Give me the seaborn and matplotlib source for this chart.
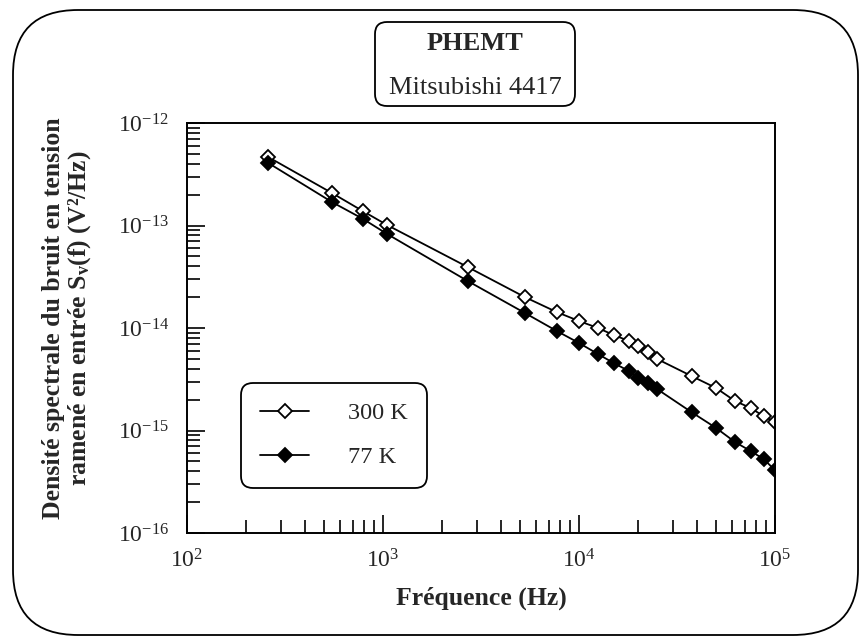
import numpy as np
import pandas as pd
import matplotlib
matplotlib.use("Agg")
import matplotlib.pyplot as plt
import seaborn as sns
from matplotlib.patches import FancyBboxPatch
from matplotlib.transforms import IdentityTransform
from matplotlib.ticker import FixedLocator, NullFormatter, LogFormatterSciNotation

# ---------------- data ----------------
freq = [260, 550, 790, 1050, 2700, 5300, 7700, 10000, 12500, 15000,
        18000, 20000, 22500, 25000, 37500, 50000, 62500, 75000, 87500, 100000]
s_300K = [4.65e-13, 2.07e-13, 1.38e-13, 1.01e-13, 3.94e-14, 2.0e-14, 1.43e-14,
          1.17e-14, 1.0e-14, 8.55e-15, 7.47e-15, 6.67e-15, 5.83e-15, 4.99e-15,
          3.4e-15, 2.6e-15, 1.94e-15, 1.66e-15, 1.38e-15, 1.21e-15]
s_77K = [4.07e-13, 1.69e-13, 1.16e-13, 8.26e-14, 2.88e-14, 1.4e-14, 9.35e-15,
         7.14e-15, 5.57e-15, 4.56e-15, 3.8e-15, 3.25e-15, 2.9e-15, 2.54e-15,
         1.51e-15, 1.06e-15, 7.72e-16, 6.31e-16, 5.27e-16, 4.1e-16]
labels = ["300 K", "77 K"]
x_major = [1e2, 1e3, 1e4, 1e5]
y_major = [1e-16, 1e-15, 1e-14, 1e-13, 1e-12]
title_lines = ["PHEMT", "Mitsubishi 4417"]
xlabel = "Fréquence (Hz)"
ylabel_lines = ["Densité spectrale du bruit en tension",
                r"ramené en entrée S$_\mathbf{v}$(f) (V²/Hz)"]

df = pd.DataFrame({
    "f": freq + freq,
    "S": s_300K + s_77K,
    "T": [labels[0]] * len(freq) + [labels[1]] * len(freq),
})

# ---------------- style ----------------
sns.set_style("white")
plt.rcParams["font.family"] = ["Liberation Serif", "DejaVu Serif"]
plt.rcParams["mathtext.fontset"] = "custom"
plt.rcParams["mathtext.rm"] = "Liberation Serif"
plt.rcParams["mathtext.it"] = "Liberation Serif:italic"
plt.rcParams["mathtext.bf"] = "Liberation Serif:bold"
plt.rcParams["axes.unicode_minus"] = False

W, H = 864, 643
fig = plt.figure(figsize=(W / 100, H / 100), dpi=100)
fig.patch.set_facecolor("white")

ax_l, ax_r, ax_t, ax_b = 187, 775, 123, 533
ax = fig.add_axes([ax_l / W, 1 - ax_b / H, (ax_r - ax_l) / W, (ax_b - ax_t) / H])
ax.set_xscale("log")
ax.set_yscale("log")

fills = ["white", "black"]
for lab, fc in zip(labels, fills):
    sub = df[df["T"] == lab]
    sns.lineplot(data=sub, x="f", y="S", ax=ax, color="black", marker="D",
                 markersize=7, markerfacecolor=fc, markeredgecolor="black",
                 markeredgewidth=1.3, linewidth=1.3, label=lab, sort=False,
                 estimator=None)

ax.set_xlim(x_major[0], x_major[-1])
ax.set_ylim(y_major[0], y_major[-1])

for sp in ax.spines.values():
    sp.set_visible(True)
    sp.set_color("black")
    sp.set_linewidth(1.4)

def minors(majors):
    out = []
    for m in majors[:-1]:
        out += [m * k for k in range(2, 10)]
    return out

ax.xaxis.set_major_locator(FixedLocator(x_major))
ax.yaxis.set_major_locator(FixedLocator(y_major))
ax.xaxis.set_major_formatter(LogFormatterSciNotation())
ax.yaxis.set_major_formatter(LogFormatterSciNotation())
ax.xaxis.set_minor_locator(FixedLocator(minors(x_major)))
ax.yaxis.set_minor_locator(FixedLocator(minors(y_major)))
ax.xaxis.set_minor_formatter(NullFormatter())
ax.yaxis.set_minor_formatter(NullFormatter())
ax.tick_params(which="both", direction="in", left=True, bottom=True,
               top=False, right=False, color="black", width=1.2)
ax.tick_params(which="major", length=13, labelsize=17, pad=12)
ax.tick_params(which="minor", length=9.5)
ax.tick_params(axis="y", which="major", pad=13)

ax.set_xlabel(xlabel, fontsize=18.5, fontweight="bold", labelpad=10)
ax.set_ylabel("")

leg = ax.legend(loc="upper left", bbox_to_anchor=(241 / W, 1 - 383 / H),
                bbox_transform=fig.transFigure, borderaxespad=0,
                fontsize=17.5, handlelength=2.0, handletextpad=1.6,
                labelspacing=0.9, borderpad=0.8,
                frameon=True, fancybox=True, framealpha=1, edgecolor="black")
leg.get_frame().set_linewidth(1.3)
leg.get_frame().set_boxstyle("round,pad=0,rounding_size=0.5")

# ---------------- decorations (pixel coordinates, y from top) ----------------
def add_box(x0, y0, x1, y1, r, lw):
    p = FancyBboxPatch((x0, H - y1), x1 - x0, y1 - y0,
                       boxstyle=f"round,pad=0,rounding_size={r}",
                       transform=IdentityTransform(), fill=False,
                       edgecolor="black", linewidth=lw)
    fig.add_artist(p)

add_box(13, 10, 858, 635, 65, 1.3)   # outer frame
add_box(375, 22, 575, 106, 12, 1.3)  # title box

fig.text(475 / W, 1 - 43 / H, title_lines[0], fontsize=19, fontweight="bold",
         ha="center", va="center")
fig.text(475 / W, 1 - 88 / H, title_lines[1], fontsize=19,
         ha="center", va="center")

fig.text(54 / W, 1 - 318 / H, ylabel_lines[0], fontsize=18.5, fontweight="bold",
         rotation=90, ha="center", va="center")
fig.text(80 / W, 1 - 318 / H, ylabel_lines[1], fontsize=18.5, fontweight="bold",
         rotation=90, ha="center", va="center")

fig.savefig("out.png", dpi=100, facecolor="white")
